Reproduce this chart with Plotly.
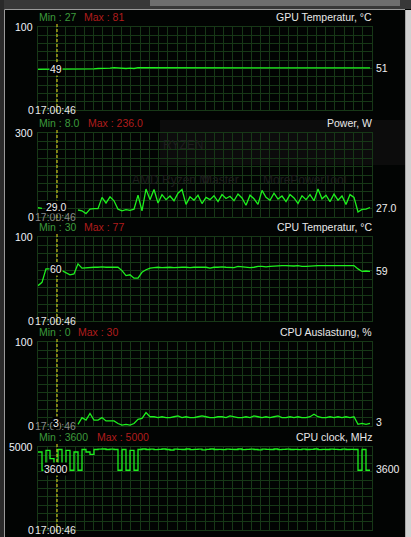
import plotly.graph_objects as go

W, H = 411, 537

# ---------------- data (one sample every ~4 px of the original monitor) ----------------
gpu_temp = [49, 49, 49, 49, 49, 49, 49, 49, 49, 49, 49, 49, 49,
            49.5, 49.5, 50, 50, 50, 50.5, 51, 50.5, 50, 50, 50.5, 50, 51,
            51, 51, 51, 51, 51, 51, 51, 51, 51, 51,
            51, 51, 51, 51, 51, 51, 51, 51, 51, 51,
            51, 51, 51, 51, 51, 51, 51, 51, 51, 51,
            51, 51, 51, 51,
            51, 50.7, 51, 51.2, 50.8, 51, 50.7, 51, 51.2, 50.8,
            51, 50.7, 51.2, 51, 50.7, 51, 51.2, 50.8, 51, 51,
            50.7, 50.7, 50.5, 50.7]

power = [33, 31, None, None, None, None, None, None, None, None,
         25, 22, 12, 28, 30, 30, 70, 50, 72, 58, 28, 22, 26, 24, 28, 78, 22, 100,
         62, 98, 50, 80, 62, 75, 58, 85, 98, 45,
         72, 60, 78, 48, 70, 62, 76, 55, 80, 66,
         74, 58, 82, 68, 42, 78, 65, 45, 95, 70,
         60, 85, 64, 75, 55, 80, 68, 48, 76, 62,
         80, 58, 100, 65, 78, 55, 82, 60, 75, 45,
         80, 70,
         18, 27, 28, 34]

cpu_temp = [42, 46, 62, 62, 61, 60, 60, 57, 55, 56, 68, 63, 63.5, 64,
            64, 64, 64.5, 64, 64, 64, 64,
            60, 54, 55, 51, 51, 58, 61, 63,
            63.5, 64, 63.5, 64, 64, 63.5, 64, 64, 64, 63.5, 64, 64, 64,
            64, 63, 64, 64, 64.5, 64, 64, 63.5, 65, 64.5,
            64, 63.5, 64, 65, 65, 64.5, 65, 65.5, 65.5,
            66, 66, 65.5, 65.5, 66, 65, 65, 65.5, 66, 66,
            66, 66, 66, 66, 66, 66, 66, 66, 66,
            62, 59, 59.5, 59]

cpu_load = [None, None, None, None, None, None, None, None, None, None,
            2, 10, 7, 15, 7, 7, 10, 6, 6, 6, 3, 1, 2, 1, 3, 8, 9, 16, 11,
            11, 10, 11, 10, 10, 11, 12, 10, 11, 10,
            10, 11, 12, 11, 10, 10, 11, 11, 10, 12,
            11, 10, 10, 11, 10, 12, 11, 10, 11, 10,
            11, 12, 10, 10, 11, 10, 11, 10, 10, 11,
            14, 11, 10, 10, 11, 10, 11, 10, 11, 10,
            11,
            2, 3, 2, 3]

cpu_clock = [4700, 3600, 4800, 4300, 3600, 4850, 3650, 4800, 3600, 4700, 3600, 4850,
             4700, 4550, 4850, 4870, 4880, 4850, 4870, 4850,
             3600, 4850, 3600, 4800, 3600, 4850,
             4880, 4850, 4870, 4840, 4860, 4880, 4850, 4820, 4870, 4860,
             4850, 4880, 4840, 4860, 4870, 4830, 4860, 4880, 4850, 4860,
             4840, 4870, 4860, 4850, 4880, 4840, 4860, 4870, 4850, 4830,
             4870, 4860, 4850, 4880, 4840, 4860, 4870, 4850, 4860, 4840,
             4870, 4850, 4860, 4880, 4840, 4860, 4850, 4870, 4860, 4840,
             4870, 4850, 4860, 4850,
             3600, 4850, 3600, 3600]

series = [gpu_temp, power, cpu_temp, cpu_load, cpu_clock]
N = len(gpu_temp)
for s in series:
    assert len(s) == N, len(s)
samples = list(range(N))

titles = ["GPU Temperatur, °C", "Power, W", "CPU Temperatur, °C", "CPU Auslastung, %", "CPU clock, MHz"]
min_labels = ["27", "8.0", "30", "0", "3600"]
max_labels = ["81", "236.0", "77", "30", "5000"]
axis_max = [100, 300, 100, 100, 5000]
axis_top_labels = ["100", "300", "100", "100", "5000"]
cursor_labels = ["49", "29.0", "60", "3", "3600"]
last_labels = ["51", "27.0", "59", "3", "3600"]
time_label = "17:00:46"

# ---------------- layout geometry (pixels) ----------------
tops = [27, 133, 237, 342, 447]
bottoms = [110, 217, 321, 426, 530]
PL, PR = 38, 372
cursor_px = 57
cursor_y = [69, 207, 269, 423, 469]
last_y = [67.5, 208, 271, 422, 469]
max_x = [83, 87, 83, 77, 96]
time_colors = ["#e6e6e6", "#8a8a8a", "#e6e6e6", "#8a8a8a", "#e6e6e6"]

GRID = "#173817"
LINE = "#1ef01e"
FONT = "Liberation Sans, Arial, sans-serif"
FS = 10.5


def fx(p):
    return p / W


def fy(p):
    return 1 - p / H


fig = go.Figure()
layout = dict(
    width=W, height=H,
    margin=dict(l=0, r=0, t=0, b=0),
    paper_bgcolor="#020403",
    plot_bgcolor="rgba(0,0,0,0)",
    showlegend=False,
    font=dict(family=FONT, size=FS, color="#e6e6e6"),
)

annotations = []
shapes = []

for k in range(5):
    sx = "" if k == 0 else str(k + 1)
    layout["xaxis" + sx] = dict(
        domain=[fx(PL), fx(PR)], range=[0, N - 0.5], anchor="y" + sx,
        showticklabels=False, showgrid=True, gridcolor=GRID, gridwidth=1,
        tick0=0, dtick=(N - 0.5) / 36, ticks="", zeroline=False,
        showline=True, mirror=True, linecolor=GRID, linewidth=1, fixedrange=True,
    )
    layout["yaxis" + sx] = dict(
        domain=[fy(bottoms[k]), fy(tops[k])], range=[0, axis_max[k]], anchor="x" + sx,
        showticklabels=False, showgrid=True, gridcolor=GRID, gridwidth=1,
        tick0=0, dtick=axis_max[k] / 10, ticks="", zeroline=False,
        showline=True, mirror=True, linecolor=GRID, linewidth=1, fixedrange=True,
    )
    fig.add_trace(go.Scatter(
        x=samples, y=series[k], mode="lines",
        line=dict(color=LINE, width=1.3, shape="hv" if k == 4 else "linear"),
        connectgaps=False, hoverinfo="skip",
        xaxis="x" + sx, yaxis="y" + sx,
    ))

    # header: Min / Max / title
    ylab = fy(tops[k] - 10)
    annotations.append(dict(text="Min : " + min_labels[k], x=fx(PL - 1), y=ylab, xref="paper", yref="paper",
                            xanchor="left", yanchor="middle", showarrow=False,
                            font=dict(color="#3c9a3c", size=FS, family=FONT)))
    annotations.append(dict(text="Max : " + max_labels[k], x=fx(max_x[k] - 1), y=ylab, xref="paper", yref="paper",
                            xanchor="left", yanchor="middle", showarrow=False,
                            font=dict(color="#b01c1c", size=FS, family=FONT)))
    annotations.append(dict(text=titles[k], x=fx(PR + 2), y=ylab, xref="paper", yref="paper",
                            xanchor="right", yanchor="middle", showarrow=False,
                            font=dict(color="#e8e8e8", size=FS, family=FONT)))
    # axis labels
    annotations.append(dict(text=axis_top_labels[k], x=fx(35), y=fy(tops[k]), xref="paper", yref="paper",
                            xanchor="right", yanchor="middle", showarrow=False,
                            font=dict(color="#eef2f8", size=FS, family=FONT)))
    annotations.append(dict(text="0", x=fx(34.5), y=fy(bottoms[k]), xref="paper", yref="paper",
                            xanchor="right", yanchor="middle", showarrow=False, borderpad=0,
                            font=dict(color="#eef2f8", size=FS, family=FONT)))
    annotations.append(dict(text=time_label, x=fx(33.5), y=fy(bottoms[k]), xref="paper", yref="paper",
                            xanchor="left", yanchor="middle", showarrow=False, borderpad=0,
                            font=dict(color=time_colors[k], size=FS, family=FONT)))
    # cursor value label and current value label
    annotations.append(dict(text=cursor_labels[k], x=fx(cursor_px - 1), y=fy(cursor_y[k]), xref="paper", yref="paper",
                            xanchor="center", yanchor="middle", showarrow=False, bgcolor="#000000", borderpad=0,
                            font=dict(color="#eeeeee", size=FS, family=FONT)))
    annotations.append(dict(text=last_labels[k], x=fx(PR + 2), y=fy(last_y[k]), xref="paper", yref="paper",
                            xanchor="left", yanchor="middle", showarrow=False,
                            font=dict(color="#eeeeee", size=FS, family=FONT)))
    # yellow cursor line
    shapes.append(dict(type="line", xref="paper", yref="paper",
                       x0=fx(cursor_px), x1=fx(cursor_px), y0=fy(tops[k] - 3), y1=fy(bottoms[k] + 4),
                       line=dict(color="#f2e21e", width=1, dash="3px,2px"), layer="above"))

# faint desktop showing through behind the Power panel
shapes.append(dict(type="rect", xref="paper", yref="paper", x0=fx(160), x1=fx(405), y0=fy(165), y1=fy(120),
                   fillcolor="#0c0c0c", line=dict(width=0), layer="below"))
for txt, px, py in [("RYZEN", 183, 145), ("AMD Ryzen M", 170, 180), ("Master", 220, 180), ("MorePowerTool", 304, 180)]:
    annotations.append(dict(text=txt, x=fx(px), y=fy(py), xref="paper", yref="paper", showarrow=False,
                            xanchor="center", yanchor="middle",
                            font=dict(color="#1e1e1e", size=12, family=FONT)))

# window frame
shapes += [
    dict(type="rect", xref="paper", yref="paper", x0=0, x1=1, y0=fy(9), y1=1,
         fillcolor="#383838", line=dict(width=0), layer="above"),
    dict(type="rect", xref="paper", yref="paper", x0=fx(150), x1=fx(400), y0=fy(6), y1=fy(0),
         fillcolor="#6e6e6e", line=dict(width=0), layer="above"),
    dict(type="rect", xref="paper", yref="paper", x0=0, x1=fx(4), y0=0, y1=1,
         fillcolor="#2a2a2a", line=dict(width=0), layer="above"),
    dict(type="line", xref="paper", yref="paper", x0=fx(4.5), x1=fx(405), y0=fy(9.5), y1=fy(9.5),
         line=dict(color="#9a9a9a", width=1), layer="above"),
    dict(type="line", xref="paper", yref="paper", x0=fx(4.5), x1=fx(4.5), y0=0, y1=fy(9.5),
         line=dict(color="#9a9a9a", width=1), layer="above"),
    dict(type="rect", xref="paper", yref="paper", x0=fx(405), x1=1, y0=0, y1=fy(10),
         fillcolor="#d2d2d2", line=dict(width=0), layer="above"),
    dict(type="line", xref="paper", yref="paper", x0=fx(405.5), x1=fx(405.5), y0=0, y1=fy(10),
         line=dict(color="#a8a8a8", width=1), layer="above"),
]

layout["annotations"] = annotations
layout["shapes"] = shapes
fig.update_layout(**layout)
fig.write_html("out.html", config={"displayModeBar": False},
               post_script="document.body.style.margin='0';document.body.style.overflow='hidden';")
